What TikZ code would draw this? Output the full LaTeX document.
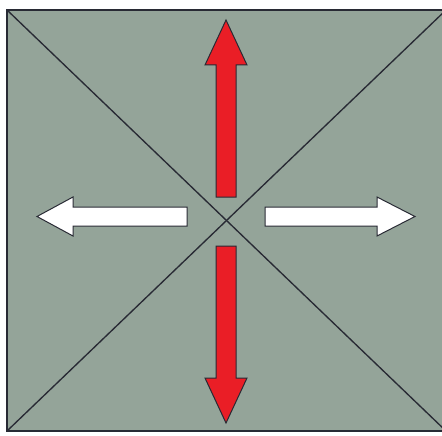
\documentclass[tikz,border=0pt]{standalone}
\definecolor{panel}{RGB}{148,164,153}
\definecolor{edge}{RGB}{40,42,52}
\definecolor{arrred}{RGB}{234,30,38}
\tikzset{
  panelbox/.style={fill=panel,draw=edge,line width=1.6pt},
  diag/.style={draw=edge,line width=1.35pt},
  redarrow/.style={fill=arrred,draw=edge,line width=1pt,line join=miter},
  whitearrow/.style={fill=white,draw=edge,line width=1pt,line join=miter}
}
\begin{document}
\begin{tikzpicture}[x=1pt,y=-1pt]
\clip (0,0) rectangle (442,436);
\fill[white] (0,0) rectangle (442,436);
\draw[panelbox] (7,10) rectangle (446,431);
\coordinate (tl) at (7,10);
\coordinate (tr) at (446,10);
\coordinate (bl) at (7,431);
\coordinate (br) at (446,431);
\draw[diag] (tl) -- (br);
\draw[diag] (tr) -- (bl);
% up arrow
\draw[redarrow] (216,197) -- (216,65) -- (205,65) -- (226,20) -- (247,65) -- (236,65) -- (236,197) -- cycle;
% down arrow
\draw[redarrow] (216,246) -- (216,378) -- (205,378) -- (226,423) -- (247,378) -- (236,378) -- (236,246) -- cycle;
% left arrow
\draw[whitearrow] (187,207) -- (73,207) -- (73,197) -- (37,216.5) -- (73,236) -- (73,226) -- (187,226) -- cycle;
% right arrow
\draw[whitearrow] (265,207) -- (377,207) -- (377,197) -- (415,216.5) -- (377,236) -- (377,226) -- (265,226) -- cycle;
\end{tikzpicture}
\end{document}
